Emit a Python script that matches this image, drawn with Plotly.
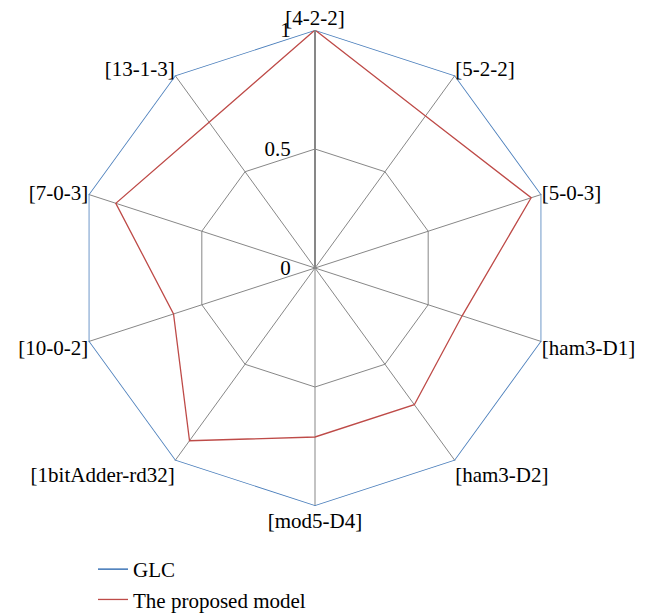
import plotly.graph_objects as go

categories = ["[4-2-2]", "[5-2-2]", "[5-0-3]", "[ham3-D1]", "[ham3-D2]",
              "[mod5-D4]", "[1bitAdder-rd32]", "[10-0-2]", "[7-0-3]", "[13-1-3]"]
glc = [1, 1, 1, 1, 1, 1, 1, 1, 1, 1]
proposed = [1, 0.79, 0.955, 0.65, 0.71, 0.71, 0.897, 0.625, 0.88, 0.757]
radial_ticks = [0, 0.5, 1]

W, H = 658, 614
cx, cy, R = 315, 268, 238

fig = go.Figure()
fig.add_trace(go.Scatterpolar(
    r=glc + [glc[0]], theta=categories + [categories[0]], mode="lines",
    name="GLC", line=dict(color="#4A7EBB", width=1.6)))
fig.add_trace(go.Scatterpolar(
    r=proposed + [proposed[0]], theta=categories + [categories[0]], mode="lines",
    name="The proposed model", line=dict(color="#BE4B48", width=1.3)))

font_family = "Liberation Serif, DejaVu Serif, serif"

fig.update_layout(
    width=W, height=H,
    margin=dict(l=0, r=0, t=0, b=0, autoexpand=False),
    paper_bgcolor="white", plot_bgcolor="white",
    font=dict(family=font_family, size=21, color="black"),
    polar=dict(
        domain=dict(x=[(cx - R) / W, (cx + R) / W],
                    y=[1 - (cy + R) / H, 1 - (cy - R) / H]),
        gridshape="linear",
        bgcolor="white",
        angularaxis=dict(direction="clockwise", rotation=90,
                         showline=False, gridcolor="#878787", gridwidth=1.2,
                         ticks="", tickfont=dict(family=font_family, size=21),
                         categoryorder="array", categoryarray=categories),
        radialaxis=dict(range=[0, 1], tickvals=radial_ticks,
                        ticktext=[str(v) for v in radial_ticks],
                        angle=90, side="counterclockwise",
                        showline=True, linecolor="#878787", linewidth=2,
                        gridcolor="#878787", gridwidth=1.2,
                        ticks="outside", ticklen=16,
                        tickcolor="rgba(0,0,0,0)",
                        tickangle=90,
                        tickfont=dict(family=font_family, size=21)),
    ),
    showlegend=True,
    legend=dict(x=93 / W, y=1 - 549 / H, xanchor="left", yanchor="top",
                orientation="v", bgcolor="rgba(0,0,0,0)",
                font=dict(family=font_family, size=21), tracegroupgap=0),
)

fig.write_html("out.html", config={"displayModeBar": False},
               post_script="document.body.style.margin='0';")
